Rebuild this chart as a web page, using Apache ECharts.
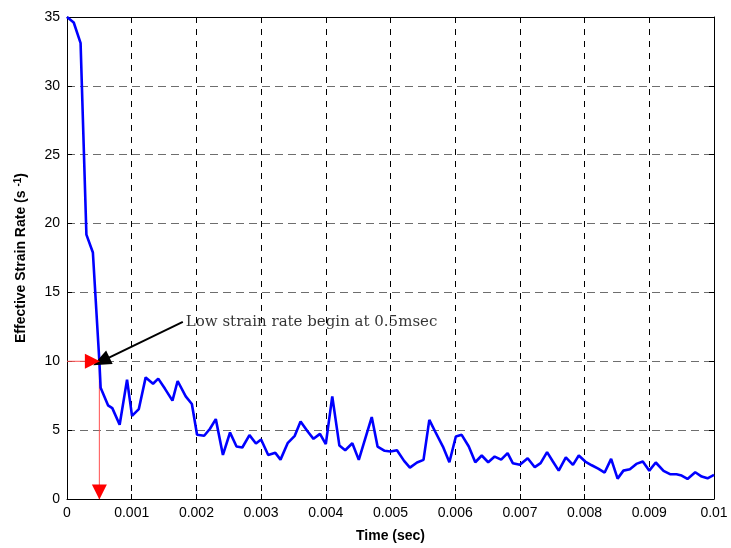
<!DOCTYPE html>
<html>
<head>
<meta charset="utf-8">
<script src="https://cdn.jsdelivr.net/npm/echarts@6/dist/echarts.min.js"></script>
<style>
  html, body { margin: 0; padding: 0; background: #fff; }
  #myChart { width: 731px; height: 548px; }
</style>
</head>
<body>
<div id="myChart"></div>
<script>
// time (sec) and effective strain rate (1/s)
const timeSec = [
  0, 0.000104, 0.00021, 0.0003, 0.0004, 0.0005, 0.00052, 0.000634, 0.0007, 0.000814,
  0.000928, 0.001005, 0.00111, 0.001216, 0.00133, 0.00141, 0.001515, 0.00163, 0.00171, 0.001835,
  0.00193, 0.00201, 0.00212, 0.00221, 0.0023, 0.00241, 0.00252, 0.00262, 0.00271, 0.00282,
  0.00292, 0.003, 0.00311, 0.00322, 0.0033, 0.00341, 0.00352, 0.00361, 0.00372, 0.00381,
  0.00391, 0.004, 0.0041, 0.00421, 0.0043, 0.00441, 0.00451, 0.00471, 0.0048, 0.00491,
  0.005, 0.0051, 0.00521, 0.0053, 0.00541, 0.00551, 0.0056, 0.00569, 0.00581, 0.00591,
  0.00601, 0.0061, 0.00621, 0.00631, 0.00641, 0.00651, 0.00661, 0.00671, 0.00681, 0.00689,
  0.007, 0.00712, 0.00723, 0.00732, 0.00742, 0.00751, 0.0076, 0.00771, 0.00782, 0.00791,
  0.00801, 0.00811, 0.00821, 0.00831, 0.00841, 0.00851, 0.0086, 0.0087, 0.0088, 0.0089,
  0.009, 0.0091, 0.00922, 0.00932, 0.00942, 0.0095, 0.00959, 0.00971, 0.00981, 0.0099,
  0.01
];
const strainRate = [
  35, 34.6, 33.1, 19.2, 17.9, 10.0, 8.07, 6.8, 6.6, 5.39,
  8.67, 6.04, 6.53, 8.83, 8.37, 8.74, 8.0, 7.14, 8.57, 7.45,
  6.9, 4.66, 4.59, 5.1, 5.8, 3.2, 4.83, 3.81, 3.74, 4.64,
  4.03, 4.32, 3.2, 3.35, 2.86, 4.05, 4.59, 5.63, 4.9, 4.37,
  4.73, 3.98, 7.45, 3.88, 3.54, 4.05, 2.84, 5.95, 3.81, 3.5,
  3.45, 3.54, 2.77, 2.28, 2.65, 2.84, 5.75, 4.9, 3.81, 2.67,
  4.54, 4.66, 3.81, 2.67, 3.16, 2.67, 3.08, 2.86, 3.33, 2.6,
  2.48, 2.96, 2.31, 2.6, 3.4, 2.72, 2.06, 3.03, 2.48, 3.16,
  2.72, 2.45, 2.2, 1.92, 2.91, 1.48, 2.06, 2.16, 2.55, 2.72,
  2.06, 2.65, 2.04, 1.8, 1.8, 1.7, 1.46, 1.94, 1.63, 1.5,
  1.75
];

// annotation: point where low strain rate begins, and label anchor
const markTime = 0.0005;
const markRate = 10;
const noteText = 'Low strain rate begin at 0.5msec';
const noteAnchor = [0.00179, 12.86];

const fmtX = v => String(+v.toFixed(4));

let myChart = echarts.init(document.getElementById('myChart'));

let option = {
  backgroundColor: '#fff',
  animation: false,
  grid: {
    left: 67,
    right: 17,
    top: 17,
    bottom: 49,
    show: false
  },
  xAxis: [{
    type: 'value',
    min: 0,
    max: 0.01,
    interval: 0.001,
    name: 'Time (sec)',
    nameLocation: 'middle',
    nameGap: 30,
    nameTextStyle: { fontFamily: 'Liberation Sans', fontWeight: 'bold', fontSize: 14, color: '#000' },
    axisLine: { show: true, onZero: false, lineStyle: { color: '#000', width: 1 } },
    axisTick: { show: true, inside: true, length: 5, lineStyle: { color: '#000' } },
    axisLabel: { color: '#000', fontFamily: 'Liberation Sans', fontSize: 14, margin: 7, formatter: fmtX },
    splitLine: { show: true, lineStyle: { color: '#000', type: [6, 6], width: 1 } }
  }, {
    type: 'value',
    position: 'top',
    min: 0,
    max: 0.01,
    interval: 0.001,
    axisLine: { show: true, onZero: false, lineStyle: { color: '#000', width: 1 } },
    axisTick: { show: true, inside: true, length: 5, lineStyle: { color: '#000' } },
    axisLabel: { show: false },
    splitLine: { show: false }
  }],
  yAxis: [{
    type: 'value',
    min: 0,
    max: 35,
    interval: 5,
    name: '{a|Effective Strain Rate (s }{s|-1}{a|)}',
    nameLocation: 'middle',
    nameGap: 38,
    nameRotate: 90,
    nameTextStyle: {
      rich: {
        a: { fontFamily: 'Liberation Sans', fontWeight: 'bold', fontSize: 14, color: '#000' },
        s: { fontFamily: 'Liberation Sans', fontWeight: 'bold', fontSize: 10, color: '#000', verticalAlign: 'top', padding: [0, 0, 6, 0] }
      }
    },
    axisLine: { show: true, onZero: false, lineStyle: { color: '#000', width: 1 } },
    axisTick: { show: true, inside: true, length: 5, lineStyle: { color: '#000' } },
    axisLabel: { color: '#000', fontFamily: 'Liberation Sans', fontSize: 14, margin: 7 },
    splitLine: { show: true, lineStyle: { color: '#6e6e6e', type: [8, 5], width: 1 } }
  }, {
    type: 'value',
    position: 'right',
    min: 0,
    max: 35,
    interval: 5,
    axisLine: { show: true, onZero: false, lineStyle: { color: '#000', width: 1 } },
    axisTick: { show: true, inside: true, length: 5, lineStyle: { color: '#000' } },
    axisLabel: { show: false },
    splitLine: { show: false }
  }],
  series: [{
    name: 'Effective strain rate',
    type: 'line',
    data: timeSec.map((t, i) => [t, strainRate[i]]),
    showSymbol: false,
    lineStyle: { color: '#0000ff', width: 2.6 },
    z: 3
  }, {
    // red guide lines to the 0.5 ms point
    type: 'line',
    data: [[0, markRate], [markTime, markRate], [markTime, 0]],
    showSymbol: false,
    silent: true,
    z: 2,
    lineStyle: { color: '#ff5050', width: 1 },
    markPoint: {
      silent: true,
      symbol: 'triangle',
      symbolSize: [15, 15],
      itemStyle: { color: '#ff0000' },
      label: { show: false },
      data: [
        { coord: [markTime, markRate], symbolRotate: -90, symbolOffset: [-7, 0] },
        { coord: [markTime, 0], symbolRotate: 180, symbolOffset: [0, -7] }
      ]
    }
  }, {
    // black pointer arrow and note
    type: 'scatter',
    data: [noteAnchor],
    symbolSize: 0,
    z: 4,
    color: '#000',
    label: {
      show: true,
      position: 'right',
      distance: 3,
      formatter: noteText,
      fontFamily: 'DejaVu Serif',
      fontSize: 15,
      color: '#000'
    },
    markLine: {
      silent: true,
      symbol: ['none', 'triangle'],
      symbolSize: [15, 18],
      label: { show: false },
      itemStyle: { color: '#000' },
      lineStyle: { color: '#000', width: 2, type: 'solid' },
      data: [
        [{ coord: noteAnchor }, { coord: [0.00053, markRate] }]
      ]
    }
  }]
};

myChart.setOption(option);
</script>
</body>
</html>
